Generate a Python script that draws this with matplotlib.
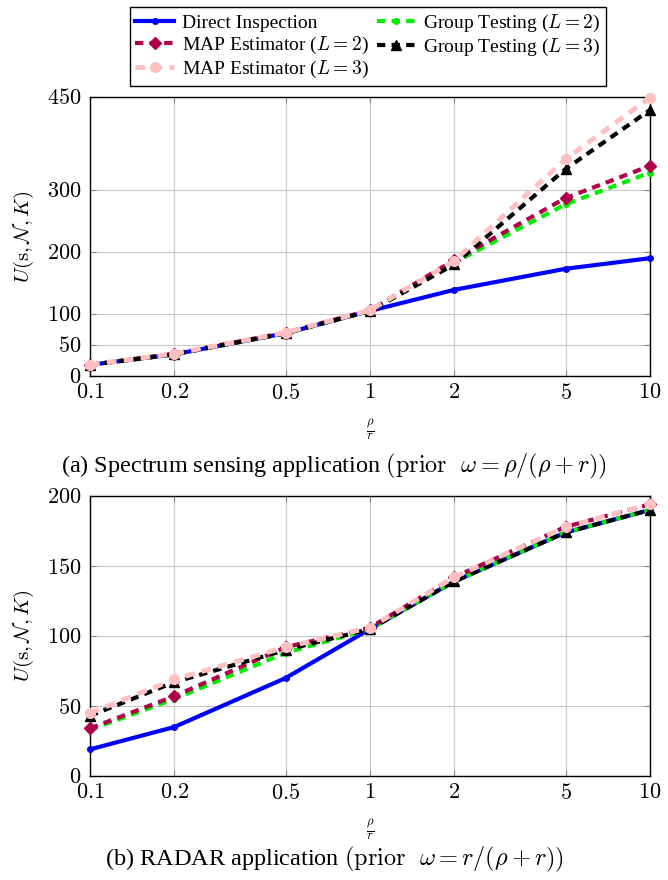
import matplotlib
matplotlib.use("Agg")
import matplotlib.pyplot as plt

plt.rcParams['mathtext.fontset'] = 'cm'
plt.rcParams['font.family'] = ['Liberation Serif', 'DejaVu Serif']

x = [0.1, 0.2, 0.5, 1, 2, 5, 10]
xticklabels = ['0.1', '0.2', '0.5', '1', '2', '5', '10']

# (a) Spectrum sensing
a_direct = [18, 35, 69, 105, 139, 173, 190]
a_map2 = [18, 36, 70, 106, 187, 287, 339]
a_gt2 = [18, 35, 69, 105, 183, 277, 328]
a_gt3 = [18, 35, 69, 105, 180, 334, 429]
a_map3 = [18, 36, 70, 106, 186, 350, 449]

# (b) RADAR
b_direct = [19, 35, 70, 105, 139, 174, 190]
b_map2 = [34, 57, 92, 106, 142, 178, 194]
b_gt2 = [33, 55, 88, 105, 139, 174, 190]
b_gt3 = [43, 67, 90, 105, 139, 174, 190]
b_map3 = [45, 69, 92, 106, 142, 178, 194]

labels = ['Direct Inspection', r'MAP Estimator ($L=2$)', r'MAP Estimator ($L=3$)',
          r'Group Testing ($L=2$)', r'Group Testing ($L=3$)']

styles = [
    dict(color='#0000ff', ls='-', marker='o', ms=4, lw=3),
    dict(color='#b0004a', ls=(0, (2, 1.5)), marker='D', ms=6, lw=3),
    dict(color='#ffc0c0', ls=(0, (2, 1.5)), marker='o', ms=7, lw=3.5),
    dict(color='#00ee00', ls=(0, (2, 1.5)), marker='o', ms=4, lw=3),
    dict(color='#000000', ls=(0, (2, 1.5)), marker='^', ms=7, lw=3),
]

fig = plt.figure(figsize=(6.68, 8.80), dpi=100)
ax1 = fig.add_axes([90/668, 1-376/880, 560/668, 279/880])
ax2 = fig.add_axes([90/668, 1-776/880, 560/668, 280/880])

order_a = [a_direct, a_map2, a_map3, a_gt2, a_gt3]
order_b = [b_direct, b_map2, b_map3, b_gt2, b_gt3]
draw_seq = [0, 3, 1, 4, 2]

handles = [None]*5
for ax, data, yticks, ymax in [(ax1, order_a, [0, 50, 100, 200, 300, 450], 450),
                                (ax2, order_b, [0, 50, 100, 150, 200], 200)]:
    for i in draw_seq:
        st = styles[i]
        h, = ax.plot(x, data[i], color=st['color'], ls=st['ls'], lw=st['lw'],
                     marker=st['marker'], ms=st['ms'], mec=st['color'], mfc=st['color'],
                     label=labels[i], zorder=3 + draw_seq.index(i), clip_on=False)
        handles[i] = h
    ax.set_xscale('log')
    ax.set_xlim(0.1, 10)
    ax.set_ylim(0, ymax)
    ax.set_xticks(x)
    ax.set_xticklabels(['$%s$' % t for t in xticklabels])
    ax.xaxis.set_minor_locator(matplotlib.ticker.NullLocator())
    ax.set_yticks(yticks)
    ax.set_yticklabels(['$%d$' % t for t in yticks])
    ax.grid(True, color='#c8c8c8', lw=0.8)
    ax.set_axisbelow(True)
    ax.tick_params(direction='in', length=4, color='#888888', labelsize=16,
                   top=True, right=True)
    ax.tick_params(axis='x', pad=6)
    ax.tick_params(axis='y', pad=6)
    for sp in ax.spines.values():
        sp.set_linewidth(1.0)
    ax.set_ylabel(r'$U(\mathrm{s},\mathcal{N},K)$', fontsize=15, labelpad=8)
    ax.set_xlabel(r'$\frac{\rho}{r}$', fontsize=13, labelpad=10)

fig.legend(handles=handles, labels=labels, ncol=2, loc='upper center',
           bbox_to_anchor=(368/668, 1-7/880), borderaxespad=0, fontsize=14, frameon=True,
           fancybox=False, edgecolor='black', framealpha=1,
           handlelength=2.0, handletextpad=0.4, columnspacing=0.4,
           labelspacing=0.15, borderpad=0.3)

fig.text(0.5, 1-466/880, r'(a) Spectrum sensing application $(\mathrm{prior}\ \ \omega=\rho/(\rho+r))$',
         ha='center', va='center', fontsize=17.5)
fig.text(0.5, 1-859/880, r'(b) RADAR application $(\mathrm{prior}\ \ \omega=r/(\rho+r))$',
         ha='center', va='center', fontsize=17.5)

fig.savefig('out.png', dpi=100)
